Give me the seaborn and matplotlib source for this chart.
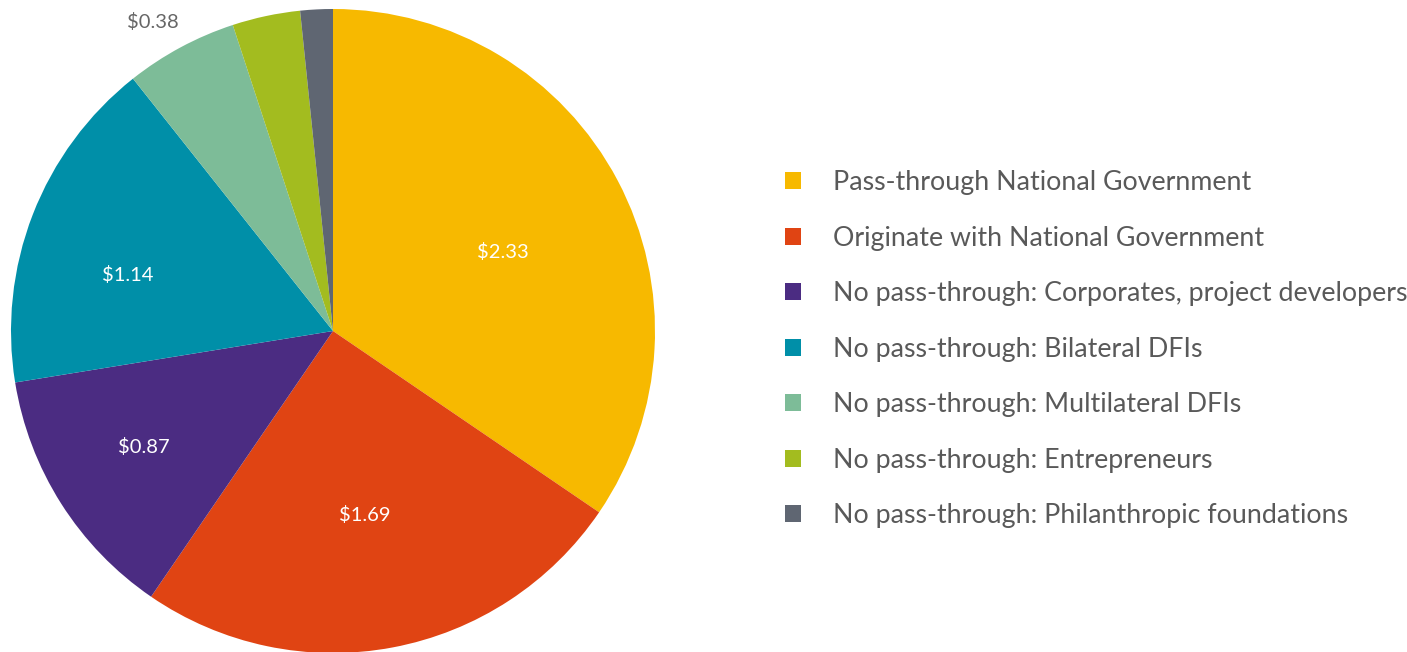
import numpy as np
import matplotlib
matplotlib.use("Agg")
import matplotlib.pyplot as plt
import seaborn as sns
from matplotlib.patches import Patch

categories = [
    "Pass-through National Government",
    "Originate with National Government",
    "No pass-through: Corporates, project developers",
    "No pass-through: Bilateral DFIs",
    "No pass-through: Multilateral DFIs",
    "No pass-through: Entrepreneurs",
    "No pass-through: Philanthropic foundations",
]
values = [2.33, 1.69, 0.87, 1.14, 0.38, 0.23, 0.11]
value_labels = ["$2.33", "$1.69", "$0.87", "$1.14", "$0.38", "", ""]
colors = ["#F7B900", "#E04413", "#4B2C82", "#008FA8", "#7DBC98", "#A3BC1F", "#5F6672"]

# where each value label sits: distance from centre and a small angle nudge (deg)
label_dist = [0.58, 0.58, 0.69, 0.66, 1.11, 0, 0]
label_nudge = [-3, -1, -1, 6, 2, 0, 0]

sns.set_theme(style="white")
plt.rcParams['font.family'] = ['Lato', 'DejaVu Sans']

palette = sns.color_palette(colors)

fig = plt.figure(figsize=(14.07, 6.52), dpi=100)
ax = fig.add_axes([11 / 1407, -1 / 652, 644 / 1407, 644 / 652])

wedges, _ = ax.pie(values, colors=palette, startangle=90, counterclock=False,
                   radius=1, wedgeprops=dict(linewidth=0))
ax.set_xlim(-1, 1)
ax.set_ylim(-1, 1)
ax.set_aspect("equal")
ax.axis("off")

for w, lab, r, nd in zip(wedges, value_labels, label_dist, label_nudge):
    if not lab:
        continue
    ang = np.deg2rad((w.theta1 + w.theta2) / 2 + nd)
    col = "white" if r < 1 else "#666666"
    ax.text(r * np.cos(ang), r * np.sin(ang), lab, ha="center", va="center",
            fontsize=14.5, color=col, clip_on=False)

# legend
handles = [Patch(facecolor=c, edgecolor="none") for c in palette]
leg = fig.legend(handles, categories, loc="upper left",
                 bbox_to_anchor=(785 / 1407, 1 - 170 / 652),
                 frameon=False, fontsize=19.3, handlelength=0.6, handleheight=0.6,
                 handletextpad=1.19, labelspacing=1.14, borderpad=0, borderaxespad=0)
for t in leg.get_texts():
    t.set_color("#595959")

fig.savefig("out.png", dpi=100)
